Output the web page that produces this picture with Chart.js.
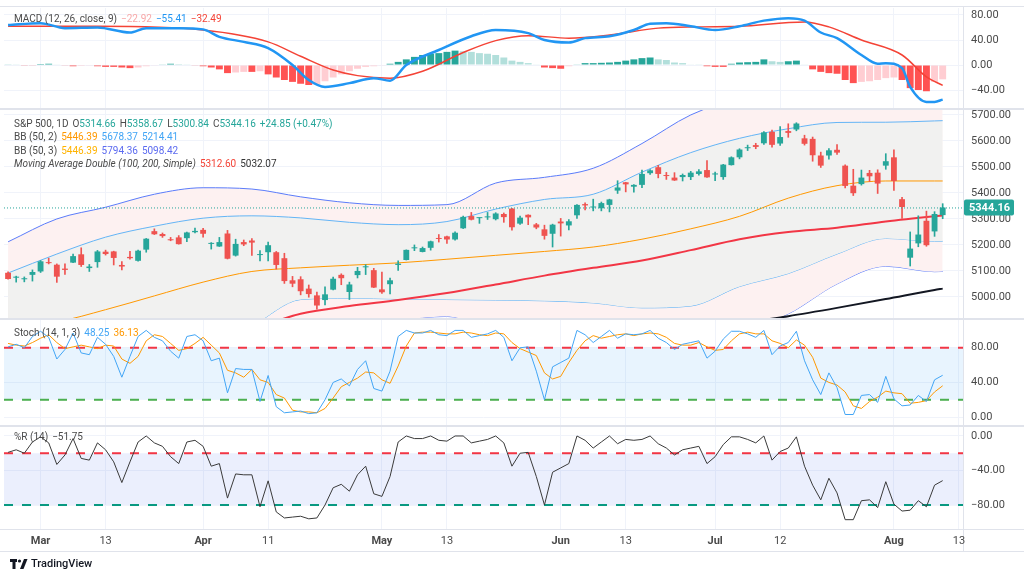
<!DOCTYPE html>
<html><head><meta charset="utf-8">
<script src="https://cdn.jsdelivr.net/npm/chart.js@4.4.1/dist/chart.umd.min.js"></script>
<style>
body{margin:0;background:#fff;width:1024px;height:579px;overflow:hidden;font-family:Roboto,"DejaVu Sans",sans-serif;}
canvas{position:absolute;left:0;}
.sep{position:absolute;background:#e0e3eb;}
.lg{position:absolute;left:14px;font-size:10px;color:#4a4a4a;white-space:pre;line-height:12px;}
.lg span{margin-left:4px;}
</style></head><body>
<div class="sep" style="left:0;top:6px;width:1024px;height:1px;"></div>
<div class="sep" style="left:0;top:108px;width:1024px;height:2px;"></div>
<div class="sep" style="left:0;top:318px;width:1024px;height:2px;"></div>
<div class="sep" style="left:0;top:425px;width:1024px;height:2px;"></div>
<div class="sep" style="left:0;top:529px;width:1024px;height:1px;"></div>
<div class="sep" style="left:0;top:551px;width:1024px;height:1px;"></div>
<div class="sep" style="left:963px;top:6px;width:1px;height:546px;"></div>
<canvas id="cMacd" width="1024" height="100" style="top:8px"></canvas>
<canvas id="cPrice" width="1024" height="208" style="top:110px"></canvas>
<canvas id="cStoch" width="1024" height="105" style="top:320px"></canvas>
<canvas id="cWr" width="1024" height="124" style="top:427px"></canvas>
<div class="lg" style="top:13px">MACD (12, 26, close, 9)<span style="color:#f8a8a8">−22.92</span><span style="color:#2196f3">−55.41</span><span style="color:#f44336">−32.49</span></div>
<div class="lg" style="top:118px">S&amp;P 500, 1D<span style="color:#4a4a4a">O<b style="font-weight:normal;color:#26a69a">5314.66</b></span><span>H<b style="font-weight:normal;color:#26a69a">5358.67</b></span><span>L<b style="font-weight:normal;color:#26a69a">5300.84</b></span><span>C<b style="font-weight:normal;color:#26a69a">5344.16</b></span><span style="color:#26a69a">+24.85 (+0.47%)</span></div>
<div class="lg" style="top:131px">BB (50, 2)<span style="color:#ff9800">5446.39</span><span style="color:#42a5f5">5678.37</span><span style="color:#42a5f5">5214.41</span></div>
<div class="lg" style="top:145px">BB (50, 3)<span style="color:#ffb300">5446.39</span><span style="color:#5c6bf0">5794.36</span><span style="color:#5c6bf0">5098.42</span></div>
<div class="lg" style="top:158px"><i style="font-style:italic">Moving Average Double (100, 200, Simple)</i><span style="color:#f44336">5312.60</span><span style="color:#333">5032.07</span></div>
<div class="lg" style="top:327px">Stoch (14, 1, 3)<span style="color:#42a5f5">48.25</span><span style="color:#ff9800">36.13</span></div>
<div class="lg" style="top:431px">%R (14)<span>−51.75</span></div>
<div style="position:absolute;left:10px;top:557px;font-size:11px;color:#131722;display:flex;align-items:center;">
<svg width="18" height="12" viewBox="0 0 18 12"><rect x="0" y="1" width="7" height="3" fill="#131722"/><rect x="2.5" y="1" width="3" height="10" fill="#131722"/><circle cx="9.5" cy="3" r="1.6" fill="#131722"/><polygon points="10,11 14,1 17.5,1 13.5,11" fill="#131722"/></svg><span style="margin-left:3px;font-weight:500">TradingView</span></div>
<script>
// ---------- data ----------
const dates = ["02-26","02-27","02-28","02-29","03-01","03-04","03-05","03-06","03-07","03-08","03-11","03-12","03-13","03-14","03-15","03-18","03-19","03-20","03-21","03-22","03-25","03-26","03-27","03-28",
"04-01","04-02","04-03","04-04","04-05","04-08","04-09","04-10","04-11","04-12","04-15","04-16","04-17","04-18","04-19","04-22","04-23","04-24","04-25","04-26","04-29","04-30",
"05-01","05-02","05-03","05-06","05-07","05-08","05-09","05-10","05-13","05-14","05-15","05-16","05-17","05-20","05-21","05-22","05-23","05-24","05-28","05-29","05-30","05-31",
"06-03","06-04","06-05","06-06","06-07","06-10","06-11","06-12","06-13","06-14","06-17","06-18","06-20","06-21","06-24","06-25","06-26","06-27","06-28",
"07-01","07-02","07-03","07-05","07-08","07-09","07-10","07-11","07-12","07-15","07-16","07-17","07-18","07-19","07-22","07-23","07-24","07-25","07-26","07-29","07-30","07-31",
"08-01","08-02","08-05","08-06","08-07","08-08","08-09","08-12","08-13"];
const opens = [5093,5074,5068,5085,5098,5131,5124,5109,5132,5164,5111,5134,5174,5175,5123,5154,5139,5182,5253,5242,5219,5229,5226,5249,
5258,5204,5194,5244,5159,5211,5217,5161,5172,5172,5149,5064,5068,5032,5006,4988,5028,5085,5019,5084,5114,5103,
5029,5049,5123,5142,5187,5173,5189,5225,5233,5221,5264,5311,5303,5306,5299,5319,5340,5282,5316,5279,5260,5243,
5290,5275,5314,5357,5344,5341,5354,5409,5441,5424,5431,5476,5499,5467,5459,5461,5461,5473,5488,
5471,5461,5507,5537,5572,5584,5591,5635,5590,5638,5644,5610,5608,5544,5544,5566,5505,5428,5434,5477,5478,5505,
5537,5376,5151,5206,5293,5252,5314.66];
const highs = [5097,5080,5077,5104,5140,5149,5127,5127,5165,5189,5125,5179,5180,5176,5136,5175,5180,5225,5262,5246,5229,5236,5249,5265,
5264,5209,5229,5256,5222,5219,5224,5178,5211,5175,5168,5079,5078,5046,5019,5039,5076,5089,5057,5114,5124,5110,
5096,5073,5139,5181,5200,5192,5215,5240,5234,5250,5311,5325,5305,5325,5324,5323,5341,5311,5316,5283,5276,5280,
5302,5298,5355,5362,5376,5365,5376,5447,5441,5432,5488,5490,5506,5479,5478,5473,5483,5490,5524,
5480,5510,5539,5570,5584,5591,5636,5642,5655,5666,5670,5622,5615,5557,5571,5586,5508,5491,5488,5487,5489,5551,
5566,5383,5250,5312,5330,5328,5358.67];
const lows = [5068,5057,5058,5061,5094,5127,5056,5087,5132,5117,5098,5114,5161,5123,5104,5145,5138,5172,5240,5229,5216,5203,5213,5246,
5230,5184,5194,5146,5157,5197,5160,5139,5139,5107,5052,5039,5008,4999,4953,4969,5027,5047,4990,5073,5086,5036,
5014,5012,5102,5142,5178,5173,5180,5211,5206,5218,5263,5296,5283,5298,5296,5287,5257,5279,5278,5262,5222,5192,
5234,5258,5302,5335,5331,5331,5327,5398,5404,5403,5420,5471,5458,5452,5448,5446,5451,5468,5460,
5447,5452,5507,5531,5563,5570,5587,5576,5583,5614,5639,5584,5522,5498,5530,5548,5419,5390,5430,5444,5398,5491,
5410,5302,5119,5193,5195,5233,5300.84];
const closes = [5069,5078,5069,5096,5137,5130,5078,5104,5157,5123,5117,5175,5165,5150,5117,5149,5178,5224,5241,5234,5218,5203,5248,5254,
5243,5205,5211,5147,5204,5202,5209,5161,5199,5123,5061,5051,5022,5011,4967,5010,5070,5072,5048,5100,5116,5036,
5018,5064,5128,5181,5187,5188,5214,5223,5221,5247,5308,5297,5303,5308,5321,5307,5268,5305,5306,5267,5235,5278,
5283,5291,5354,5352,5347,5361,5375,5421,5433,5431,5473,5487,5473,5465,5448,5469,5478,5483,5460,
5475,5509,5537,5567,5572,5577,5633,5585,5615,5631,5667,5589,5545,5505,5564,5555,5427,5399,5459,5464,5436,5522,
5446,5346,5186,5240,5199,5319,5344.16];
// overlay lines, sampled at bar indices
const lineIdx = [0,6,12,18,24,30,36,42,48,54,60,66,72,78,84,90,96,102,108,114,115];
const bbMid   = [4895,4905,4951,5004,5057,5098,5112,5122,5131,5145,5160,5175,5192,5222,5262,5310,5380,5428,5446,5446,5446];
const bb2Up   = [5092,5165,5230,5272,5303,5312,5304,5287,5278,5290,5338,5375,5395,5480,5555,5610,5647,5671,5672,5677,5678];
const bb2Lo   = [4680,4700,4720,4760,4820,4890,4990,4995,4992,4990,4988,4985,4977,4958,4965,5040,5090,5165,5225,5214,5214];
const bb3Up   = [5212,5300,5345,5395,5420,5415,5385,5362,5352,5355,5438,5460,5495,5590,5700,5765,5805,5820,5812,5796,5794];
const bb3Lo   = [4578,4510,4557,4613,4694,4781,4839,4882,4910,4925,4882,4890,4889,4854,4824,4870,4935,5050,5118,5097,5098];
const sma100  = [4700,4730,4765,4800,4840,4878,4935,4965,4988,5015,5048,5082,5112,5140,5180,5222,5250,5266,5290,5310,5313];
const sma200  = [4560,4580,4600,4620,4640,4660,4680,4700,4720,4745,4770,4795,4820,4845,4870,4898,4926,4958,4992,5027,5032];
// MACD
const macdIdx = [0,4,7,11,15,17,21,24,26,29,32,35,37,39,42,45,47,49,53,57,60,64,66,69,71,74,77,79,81,84,87,90,93,96,98,100,102,105,107,108,110,111,113,114,115];
const macdVal = [64,67,59,60,52,59,59,57,45,37,27,0,-24,-35,-29,-21,-25,0,24,46,56,51,40,36,43,46,56,66,67,62,56,62,71,75,71,52,43,16,2,3,-5,-35,-59,-59,-55.41];
const sigIdx  = [0,11,24,32,36,40,43,47,51,56,60,64,69,74,80,85,90,98,101,105,110,113,115];
const sigVal  = [62,62,56,37,14,-8,-17,-21,-10,20,39,47,43,48,59,61,62,69,61,40,16,-19,-32.49];
const macdHist = [1,0.5,-0.5,-1,1.5,2,1,-1,-2,-1.5,-0.5,-2,-3,-3,-4,-5,-4,-2,-1,1,2,1.5,0.5,-1,-2,-4,-7,-13,-12,-11,-11,-10,-15,-20,-24,-27,-30,-32,-31,-26,-20,-15,-10,-6,-3,-2,-1,2,5,9,13,16,18,19,21,23,22,21,19,18,16,12,7,5,3,1,-4,-5,-6,-2,1,3,3,3.5,4,5,7,9,11,12,9,8,4,3,1,0.5,-2,-3,-3,2,4,4.5,5,9,6,5,6,7,1,-7,-11,-13,-14,-24,-29,-27,-26,-24,-21,-20,-24,-37,-40,-42,-27,-22.92];
// Stoch (14,1,3) and Williams %R (14)
const stochK = [81,84,80,93,99,92,67,78,97,74,72,92,84,70,46,70,93,100,92,88,76,68,93,95,88,65,68,28,56,55,55,18,48,12,5,6,7,4,5,20,40,44,36,55,65,33,30,53,93,100,97,97,100,95,94,100,100,92,94,96,100,92,65,80,81,53,20,58,63,68,100,95,86,93,100,91,96,95,96,100,91,86,78,84,86,88,68,76,90,99,99,96,92,100,72,82,86,99,65,43,26,51,34,3,3,25,26,17,47,21,13,14,25,18,43,48.25];
const stochD = [85,83,82,86,91,95,86,79,81,83,81,79,83,82,67,62,70,88,95,93,85,77,79,85,92,83,74,54,51,46,55,43,40,26,22,8,6,6,5,10,22,35,40,45,52,51,43,39,59,82,97,98,98,97,96,96,98,97,95,94,97,96,86,79,75,71,51,44,47,63,77,88,94,91,93,95,96,94,96,97,96,92,85,83,83,86,81,77,78,88,96,98,96,96,88,85,80,89,83,69,45,40,37,29,13,10,18,23,30,28,27,16,17,19,29,36.13];
const willR = [-19,-16,-20,-7,-1,-8,-33,-22,-3,-26,-28,-8,-16,-30,-54,-30,-7,0,-8,-12,-24,-32,-7,-5,-12,-35,-32,-72,-44,-45,-45,-82,-52,-88,-95,-94,-93,-96,-95,-80,-60,-56,-64,-45,-35,-67,-70,-47,-7,0,-3,-3,0,-5,-6,0,0,-8,-6,-4,0,-8,-35,-20,-19,-47,-80,-42,-37,-32,0,-5,-14,-7,0,-9,-4,-5,-4,0,-9,-14,-22,-16,-14,-12,-32,-24,-10,-1,-1,-4,-8,0,-28,-18,-14,-1,-35,-57,-74,-49,-66,-97,-97,-75,-74,-83,-53,-79,-87,-86,-75,-82,-57,-51.75];
// x tick labels
const tickIdx  = [4,12,24,32,46,54,68,76,87,95,109,117];
const tickText = ["Mar","13","Apr","11","May","13","Jun","13","Jul","12","Aug","13"];
const macdTicks = [80,40,0,-40];
const priceTicks = [5700,5600,5500,5400,5300,5200,5100,5000];
const stochTicks = [80,40,0];
const wrTicks = [0,-40,-80];
const lastClose = 5344.16;

// ---------- helpers ----------
const UP='#26a69a', DN='#ef5350', GRID='#f0f3fa';
const pts = (idx, vals) => idx.map((ix,k)=>({x:dates[ix], y:vals[k]}));
function xScale(showTicks){
  return {type:'category', offset:true,
    grid:{offset:false, drawTicks:false, color:c=>tickIdx.includes(c.index)?GRID:'rgba(0,0,0,0)'},
    border:{display:false},
    ticks:{display:showTicks, autoSkip:false, maxRotation:0, padding:6, color:'#4a4a4a',
      font:c=>({family:'Roboto', size:11, weight: /^[A-Z]/.test(tickText[tickIdx.indexOf(c.index)]||'')?'bold':'normal'}),
      callback:(v,i)=>{const k=tickIdx.indexOf(i);return k<0?'':tickText[k];}},
    afterFit:s=>{s.height=showTicks?22:0;s.paddingLeft=0;s.paddingRight=0;}};
}
function yScale(min,max,ticks){
  return {position:'right', min, max,
    afterBuildTicks:s=>{s.ticks=ticks.map(v=>({value:v}));},
    afterFit:s=>{s.width=61;s.paddingTop=0;s.paddingBottom=0;},
    grid:{color:GRID, drawTicks:false}, border:{display:false},
    ticks:{padding:8, color:'#4a4a4a', font:{family:'Roboto',size:11}, callback:v=>v.toFixed(2).replace('-','−')}};
}
const base = {responsive:false, animation:false, events:[], layout:{padding:{left:4,right:0,top:0,bottom:0}},
  plugins:{legend:{display:false}, tooltip:{enabled:false}}};
function bandPlugin(lo,hi,fill,hiCol,loCol){
  return {id:'band',beforeDatasetsDraw(ch){const y=ch.scales.y,a=ch.chartArea,c=ch.ctx;
    const p1=y.getPixelForValue(hi),p2=y.getPixelForValue(lo);
    c.save();c.fillStyle=fill;c.fillRect(a.left,p1,a.right-a.left,p2-p1);
    c.setLineDash([9,9]);c.lineWidth=2;
    c.strokeStyle=hiCol;c.beginPath();c.moveTo(a.left,p1);c.lineTo(a.right,p1);c.stroke();
    c.strokeStyle=loCol;c.beginPath();c.moveTo(a.left,p2);c.lineTo(a.right,p2);c.stroke();c.restore();}};
}
const lineDs=(data,color,w,extra)=>Object.assign({type:'line',data,borderColor:color,borderWidth:w,pointRadius:0,fill:false,cubicInterpolationMode:'monotone'},extra||{});

// ---------- MACD ----------
new Chart(document.getElementById('cMacd'),{type:'bar',data:{labels:dates,datasets:[
  lineDs(pts(macdIdx,macdVal),'#2196f3',2.5),
  lineDs(pts(sigIdx,sigVal),'#f44336',1.5),
  {type:'bar',data:macdHist,barPercentage:0.85,categoryPercentage:1,
   backgroundColor:c=>{const i=c.dataIndex,v=macdHist[i],p=i>0?macdHist[i-1]:v;
     return v>=0?(v>=p?'#26a69a':'#b2dfdb'):(v<=p?'#ff5252':'#ffcdd2');}}
]},options:Object.assign({},base,{scales:{x:xScale(false),y:yScale(-68.8,91.2,macdTicks)}})});

// ---------- Price ----------
const n=closes.length;
const wick=[],body=[],cols=[];
for(let i=0;i<n;i++){wick.push([lows[i],highs[i]]);body.push([opens[i],closes[i]]);cols.push(closes[i]>=opens[i]?UP:DN);}
const pricePlugin={id:'last',afterDatasetsDraw(ch){const y=ch.scales.y,a=ch.chartArea,c=ch.ctx,p=y.getPixelForValue(lastClose);
  c.save();c.setLineDash([1,2]);c.strokeStyle=UP;c.lineWidth=1;c.beginPath();c.moveTo(a.left,p+0.5);c.lineTo(a.right,p+0.5);c.stroke();c.restore();},
  afterDraw(ch){const y=ch.scales.y,a=ch.chartArea,c=ch.ctx,p=y.getPixelForValue(lastClose);
  c.save();c.fillStyle=UP;c.beginPath();c.roundRect(a.right+1,p-8,50,16,2);c.fill();
  c.fillStyle='#fff';c.font='bold 11px Roboto';c.textBaseline='middle';c.fillText(lastClose.toFixed(2),a.right+6,p+0.5);c.restore();}};
new Chart(document.getElementById('cPrice'),{type:'bar',data:{labels:dates,datasets:[
  {type:'bar',data:body,grouped:false,barPercentage:0.72,categoryPercentage:1,minBarLength:1,backgroundColor:cols},
  {type:'bar',data:wick,grouped:false,barThickness:1,backgroundColor:cols},
  lineDs(pts(lineIdx,sma200),'#131722',2),
  lineDs(pts(lineIdx,sma100),'#f23645',2),
  lineDs(pts(lineIdx,bbMid),'#ff9800',1),
  lineDs(pts(lineIdx,bb2Up),'#64b5f6',1,{fill:'+1',backgroundColor:'rgb(241,241,240)'}),
  lineDs(pts(lineIdx,bb2Lo),'#64b5f6',1),
  lineDs(pts(lineIdx,bb3Up),'#5b7cfa',1,{fill:'+1',backgroundColor:'rgb(253,241,241)'}),
  lineDs(pts(lineIdx,bb3Lo),'#5b7cfa',1)
]},options:Object.assign({},base,{scales:{x:xScale(false),y:yScale(4919,5719,priceTicks)}}),plugins:[pricePlugin]});

// ---------- Stoch ----------
new Chart(document.getElementById('cStoch'),{type:'line',data:{labels:dates,datasets:[
  lineDs(stochK,'#42a5f5',1,{cubicInterpolationMode:'default',tension:0}),
  lineDs(stochD,'#ff9800',1,{cubicInterpolationMode:'default',tension:0})
]},options:Object.assign({},base,{scales:{x:xScale(false),y:yScale(-9.1,112,stochTicks)}}),
 plugins:[bandPlugin(20,80,'rgba(33,150,243,0.1)','#f23645','#4caf50')]});

// ---------- %R ----------
new Chart(document.getElementById('cWr'),{type:'line',data:{labels:dates,datasets:[
  lineDs(willR,'#3a3a3a',1,{cubicInterpolationMode:'default',tension:0})
]},options:Object.assign({},base,{scales:{x:xScale(true),y:yScale(-107.8,10.4,wrTicks)}}),
 plugins:[bandPlugin(-80,-20,'rgba(70,110,240,0.11)','#f23645','#089981')]});
</script>
</body></html>
